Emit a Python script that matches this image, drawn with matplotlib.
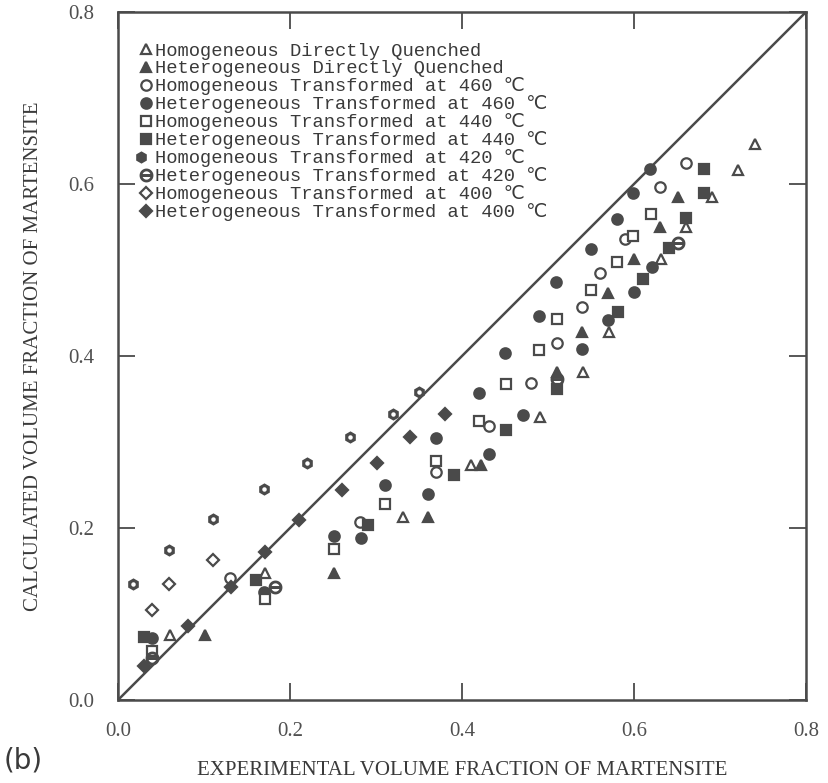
"""Calculated vs experimental martensite volume fraction, panel (b)."""

import matplotlib

matplotlib.use("Agg")
import matplotlib.pyplot as plt
from matplotlib.legend_handler import HandlerTuple

# experimental (x) and calculated (y) volume fractions per series
homo_dq_x = [0.060, 0.171, 0.331, 0.411, 0.491, 0.541, 0.571, 0.631, 0.661, 0.691, 0.721, 0.741]
homo_dq_y = [0.076, 0.148, 0.213, 0.273, 0.329, 0.381, 0.428, 0.513, 0.550, 0.585, 0.616, 0.647]

hetero_dq_x = [0.101, 0.251, 0.361, 0.422, 0.510, 0.540, 0.570, 0.600, 0.630, 0.651]
hetero_dq_y = [0.076, 0.148, 0.213, 0.273, 0.381, 0.428, 0.473, 0.513, 0.550, 0.585]

homo_460_x = [0.130, 0.281, 0.370, 0.431, 0.480, 0.510, 0.540, 0.560, 0.590, 0.630, 0.660]
homo_460_y = [0.142, 0.207, 0.265, 0.319, 0.369, 0.415, 0.457, 0.496, 0.536, 0.597, 0.625]

hetero_460_x = [0.040, 0.170, 0.251, 0.282, 0.311, 0.361, 0.370, 0.420, 0.431, 0.450, 0.471,
                0.490, 0.509, 0.540, 0.550, 0.570, 0.580, 0.600, 0.599, 0.619, 0.621]
hetero_460_y = [0.072, 0.126, 0.191, 0.188, 0.250, 0.239, 0.305, 0.357, 0.286, 0.404, 0.331,
                0.447, 0.486, 0.408, 0.524, 0.442, 0.559, 0.474, 0.590, 0.618, 0.504]

homo_440_x = [0.040, 0.171, 0.251, 0.311, 0.370, 0.420, 0.451, 0.490, 0.510, 0.550, 0.580, 0.599, 0.620]
homo_440_y = [0.057, 0.117, 0.176, 0.228, 0.278, 0.325, 0.368, 0.407, 0.443, 0.477, 0.509, 0.539, 0.565]

hetero_440_x = [0.030, 0.160, 0.291, 0.391, 0.451, 0.510, 0.581, 0.611, 0.641, 0.661, 0.681, 0.681]
hetero_440_y = [0.073, 0.140, 0.203, 0.262, 0.314, 0.362, 0.451, 0.490, 0.526, 0.560, 0.590, 0.617]

homo_420_x = [0.018, 0.059, 0.110, 0.170, 0.220, 0.270, 0.320, 0.350]
homo_420_y = [0.135, 0.174, 0.211, 0.245, 0.276, 0.306, 0.333, 0.358]

hetero_420_x = [0.040, 0.182, 0.510, 0.651]
hetero_420_y = [0.049, 0.131, 0.373, 0.531]

homo_400_x = [0.040, 0.059, 0.110]
homo_400_y = [0.105, 0.135, 0.163]

hetero_400_x = [0.030, 0.081, 0.131, 0.171, 0.210, 0.261, 0.301, 0.340, 0.380]
hetero_400_y = [0.039, 0.086, 0.131, 0.172, 0.209, 0.244, 0.276, 0.306, 0.333]

labels = [
    "Homogeneous Directly Quenched",
    "Heterogeneous Directly Quenched",
    "Homogeneous Transformed at 460 ℃",
    "Heterogeneous Transformed at 460 ℃",
    "Homogeneous Transformed at 440 ℃",
    "Heterogeneous Transformed at 440 ℃",
    "Homogeneous Transformed at 420 ℃",
    "Heterogeneous Transformed at 420 ℃",
    "Homogeneous Transformed at 400 ℃",
    "Heterogeneous Transformed at 400 ℃",
]

INK = "#4a4a4a"
TEXT = "#3a3a3a"


def series(ax, x, y, marker, size, filled, **extra):
    face = INK if filled else "white"
    (line,) = ax.plot(x, y, linestyle="none", marker=marker, markersize=size,
                      markerfacecolor=face, markeredgecolor=INK, markeredgewidth=1.6, **extra)
    return line


def main() -> None:
    fig = plt.figure(figsize=(8.29, 7.83), dpi=100)
    ax = fig.add_axes([118 / 829, 83 / 783, 688 / 829, 688 / 783])

    ax.plot([0, 0.8], [0, 0.8], color=INK, linewidth=1.8, zorder=1)

    handles = [
        series(ax, homo_dq_x, homo_dq_y, "^", 6.5, False),
        series(ax, hetero_dq_x, hetero_dq_y, "^", 6.5, True),
        series(ax, homo_460_x, homo_460_y, "o", 7.5, False),
        series(ax, hetero_460_x, hetero_460_y, "o", 7.5, True),
        series(ax, homo_440_x, homo_440_y, "s", 6.5, False),
        series(ax, hetero_440_x, hetero_440_y, "s", 6.5, True),
    ]
    gear = series(ax, homo_420_x, homo_420_y, "h", 7, True)
    hole = ax.plot(homo_420_x, homo_420_y, linestyle="none", marker="o", markersize=2.2,
                   markerfacecolor="white", markeredgecolor="white")[0]
    handles.append((gear, hole))
    handles.append(ax.plot(hetero_420_x, hetero_420_y, linestyle="none", marker=r"$\ominus$",
                           markersize=9, color=INK)[0])
    handles.append(series(ax, homo_400_x, homo_400_y, "D", 6, False))
    handles.append(series(ax, hetero_400_x, hetero_400_y, "D", 6, True))

    ax.set_xlim(0, 0.8)
    ax.set_ylim(0, 0.8)
    ticks = [0.0, 0.2, 0.4, 0.6, 0.8]
    ax.set_xticks(ticks)
    ax.set_yticks(ticks)
    ax.set_xticklabels([f"{t:.1f}" for t in ticks])
    ax.set_yticklabels([f"{t:.1f}" for t in ticks])
    ax.tick_params(direction="in", length=12, width=1.3, color=INK, top=True, right=True,
                   labelsize=15, labelcolor="#505050")
    ax.tick_params(axis="x", pad=16)
    ax.tick_params(axis="y", pad=17)
    for label in ax.get_xticklabels() + ax.get_yticklabels():
        label.set_family("Liberation Serif")
    for spine in ax.spines.values():
        spine.set_color(INK)
        spine.set_linewidth(1.8)

    ax.set_xlabel("EXPERIMENTAL VOLUME FRACTION OF MARTENSITE", family="Liberation Serif",
                  fontsize=15, color=TEXT, labelpad=14)
    ax.set_ylabel("CALCULATED VOLUME FRACTION OF MARTENSITE", family="Liberation Serif",
                  fontsize=15, color=TEXT, labelpad=18)

    ax.legend(handles, labels, loc="upper left", bbox_to_anchor=(0.02, 0.966),
              frameon=False, handlelength=0.7, handletextpad=0.15, labelspacing=0.0,
              borderaxespad=0, handler_map={tuple: HandlerTuple(ndivide=None)},
              prop={"family": ["Liberation Mono", "DejaVu Sans"], "size": 13.5},
              labelcolor=TEXT)

    fig.text(0.004, 0.018, "(b)", family="DejaVu Sans", fontsize=20, color=TEXT)
    fig.savefig("out.png", dpi=100, facecolor="white")


if __name__ == "__main__":
    main()
